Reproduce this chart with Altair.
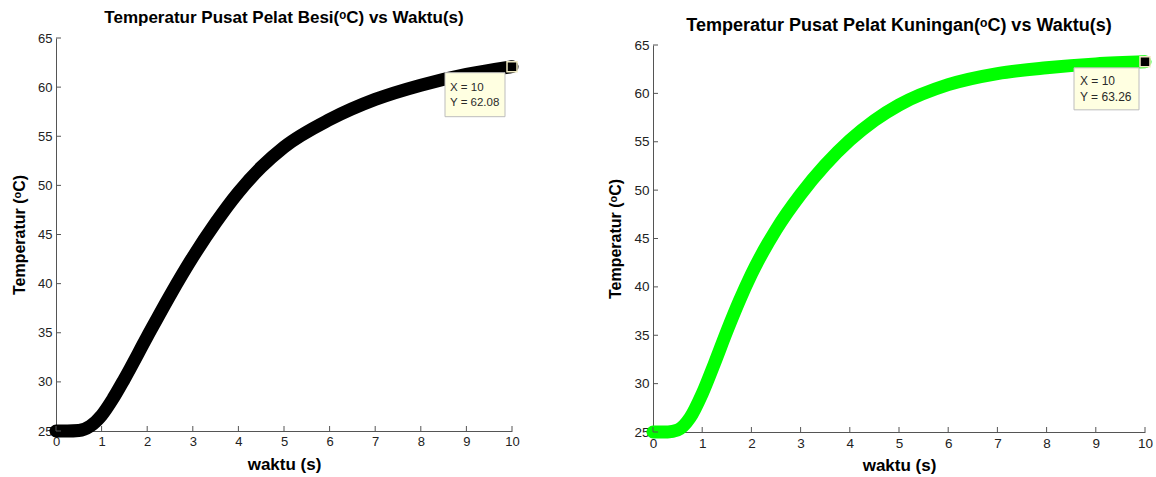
import altair as alt
import pandas as pd

# ---- data ----
waktu_besi = [0, 0.25, 0.5, 0.75, 1.0, 1.25, 1.5, 2.0, 2.5, 3.0, 3.5, 4.0, 4.5, 5.0, 6.0, 7.0, 8.0, 9.0, 10.0]
suhu_besi = [25.0, 25.0, 25.05, 25.5, 26.6, 28.3, 30.3, 34.6, 38.8, 42.7, 46.2, 49.3, 51.85, 53.9, 56.7, 58.75, 60.2, 61.3, 62.08]

waktu_kuningan = [0, 0.3, 0.5, 0.75, 1.0, 1.25, 1.5, 1.75, 2.0, 2.5, 3.0, 3.5, 4.0, 4.5, 5.0, 6.0, 7.0, 8.0, 9.0, 10.0]
suhu_kuningan = [25.0, 25.0, 25.2, 26.45, 28.95, 32.1, 35.4, 38.5, 41.3, 45.9, 49.55, 52.6, 55.15, 57.2, 58.8, 60.9, 62.05, 62.65, 63.05, 63.26]

x_ticks = [0, 1, 2, 3, 4, 5, 6, 7, 8, 9, 10]
y_ticks = [25, 30, 35, 40, 45, 50, 55, 60, 65]

tip_besi = (10, 62.08)
tip_kuningan = (10, 63.26)

FONT = "Liberation Sans"
AXC = "#555555"
LABC = "#222222"


def panel(waktu, suhu, color, title_text, title_size, title_offset, w, h, top_gap,
          tip, box_path, tdx, tdy, tsize, tlh, lab_size):
    df = pd.DataFrame({"waktu": waktu, "suhu": suhu})
    xs = alt.Scale(domain=[0, 10], nice=False, zero=False)
    ys = alt.Scale(domain=[25, 65], nice=False, zero=False, range=[h, top_gap])
    xax = alt.Axis(values=x_ticks, title="waktu (s)", ticks=False, tickSize=0, grid=False,
                   labelPadding=4, titlePadding=8, labelFontSize=lab_size, labelFont=FONT,
                   labelColor=LABC, titleFont=FONT, titleFontSize=17, titleFontWeight="bold",
                   titleColor="black", domainColor=AXC, domainWidth=1, format="d", labelFlush=False)
    yax = alt.Axis(values=y_ticks, title="Temperatur (ᵒC)", ticks=False, tickSize=0, grid=False,
                   labelPadding=4, titlePadding=10, labelFontSize=lab_size, labelFont=FONT,
                   labelColor=LABC, titleFont=FONT, titleFontSize=16, titleFontWeight="bold",
                   titleColor="black", domainColor=AXC, domainWidth=1, format="d", labelFlush=False)

    line = alt.Chart(df).mark_line(
        color=color, strokeWidth=13, strokeCap="round", strokeJoin="round", interpolate="monotone"
    ).encode(
        x=alt.X("waktu:Q", scale=xs, axis=xax),
        y=alt.Y("suhu:Q", scale=ys, axis=yax),
    )

    ytk = alt.Chart(pd.DataFrame({"v": y_ticks})).mark_rule(color=AXC, strokeWidth=1).encode(
        y=alt.Y("v:Q", scale=ys, axis=yax),
        x=alt.value(0), x2=alt.value(5),
    )
    xtk = alt.Chart(pd.DataFrame({"v": x_ticks})).mark_rule(color=AXC, strokeWidth=1).encode(
        x=alt.X("v:Q", scale=xs, axis=xax),
        y=alt.value(h), y2=alt.value(h - 5),
    )

    tdf = pd.DataFrame({"x": [tip[0]], "y": [tip[1]],
                        "label": [f"X = {tip[0]:g}\nY = {tip[1]:.2f}"]})
    base = alt.Chart(tdf).encode(
        x=alt.X("x:Q", scale=xs, axis=xax),
        y=alt.Y("y:Q", scale=ys, axis=yax),
    )
    box = base.mark_point(shape=box_path, size=400, filled=True, fill="#ffffe1",
                          stroke="#bdbdbd", strokeWidth=1, opacity=1)
    marker = base.mark_point(shape="square", size=100, filled=True, fill="black",
                             stroke="#efeac4", strokeWidth=1.5, opacity=1)
    txt = base.mark_text(align="left", baseline="top", dx=tdx, dy=tdy, fontSize=tsize,
                         lineHeight=tlh, lineBreak="\n", font=FONT, color="#2a2a2a").encode(
        text="label:N")

    return alt.layer(line, ytk, xtk, box, marker, txt).properties(
        width=w, height=h,
        title=alt.TitleParams(text=title_text, font=FONT, fontSize=title_size, fontWeight="bold",
                              color="black", anchor="middle", offset=title_offset),
    )


left = panel(waktu_besi, suhu_besi, "#000000",
             "Temperatur Pusat Pelat Besi(ᵒC) vs Waktu(s)", 17, 5,
             456, 393, 0, tip_besi, "M -6.7 0.6 H -0.7 V 5.0 H -6.7 Z", -62, 15, 11.5, 15, 13)
right = panel(waktu_kuningan, suhu_kuningan, "#00ff00",
              "Temperatur Pusat Pelat Kuningan(ᵒC) vs Waktu(s)", 18, 3,
              492, 394, 7, tip_kuningan, "M -7.1 0.6 H -0.6 V 4.8 H -7.1 Z", -65, 14, 12, 16, 13.5)

chart = alt.hconcat(left, right, spacing=87).properties(
    padding={"left": 11, "top": 9, "right": 0, "bottom": 0},
    background="white",
).configure_view(stroke="transparent", strokeWidth=0)

chart.save("out.html", embed_options={"renderer": "svg", "actions": False})
